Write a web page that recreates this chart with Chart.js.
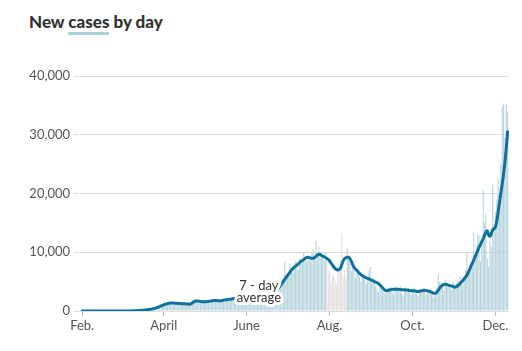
<!DOCTYPE html>
<html>
<head>
<meta charset="utf-8">
<script src="https://cdn.jsdelivr.net/npm/chart.js@4/dist/chart.umd.min.js"></script>
<style>
  html, body { margin: 0; padding: 0; background: #fff; }
  #wrap { position: relative; width: 522px; height: 351px; }
  #title {
    position: absolute; left: 29px; top: 12px;
    font-family: Lato, sans-serif; font-weight: 900; font-size: 17px;
    color: #333; line-height: 20px; white-space: nowrap;
  }
  #title span { border-bottom: 3px solid #a9cfd9; }
  canvas { position: absolute; left: 0; top: 0; }
</style>
</head>
<body>
<div id="wrap">
  <div id="title">New <span>cases</span> by day</div>
  <canvas id="casesChart" width="522" height="351"></canvas>
</div>
<script>
// daily data starts Feb 1, one value per day
const START_DATE = '2020-02-01';

const dailyCases = [
  0,0,0,0,0,0,0,0,0,0,
  0,0,0,0,0,0,0,0,0,0,
  0,0,0,0,0,0,0,0,3,4,
  6,8,10,14,18,24,30,40,45,55,
  70,85,105,125,150,170,200,230,250,280,
  330,380,450,520,600,700,800,900,1000,1100,
  1200,1300,1400,1500,1300,1100,1400,1500,1300,1200,
  1400,1200,1100,1300,1200,1400,1100,1000,1300,1200,
  1500,1800,1900,1700,1600,1500,1700,1600,1500,1700,
  1500,1700,1800,1400,1600,1900,1800,2000,1700,1500,
  1800,1900,1700,1900,2100,1800,1700,2000,2100,2200,
  1900,2300,2000,1900,2200,2500,2300,2100,2600,2400,
  2200,2600,2400,2900,2700,2500,3000,2900,2800,2700,
  3200,3100,2800,3300,3100,2900,3000,3500,3400,3300,
  3100,3600,3200,3500,4200,5000,4400,4800,5500,8400,
  6200,6500,5800,8000,7000,6500,7800,8500,8200,7000,
  9000,8900,8200,10000,9200,8400,8700,9500,8600,9800,
  10500,9300,12000,9900,11000,10200,9000,9200,8600,10000,
  8800,7000,6500,5000,5800,6200,5500,4500,6800,7500,
  7200,13200,6000,7000,5600,10600,9300,8200,6800,7800,
  7000,5600,6400,6900,5800,5000,6300,6000,5400,4700,
  5600,6900,7500,5000,4800,5500,4300,3800,3200,4900,
  4200,3600,3100,2900,3700,4000,3900,4100,3300,2900,
  3800,4200,3600,3900,4300,3200,2600,3500,4000,3800,
  3900,3100,2700,3600,3900,3400,3000,2500,3400,3800,
  3600,3900,3300,2800,3300,3500,3700,3100,2900,2400,
  3200,4000,6300,5000,4800,4900,3500,5300,4800,4000,
  4400,3900,3600,4800,3800,4700,5200,4600,5800,5000,
  4500,6000,6800,10000,6500,7800,8300,7500,13500,9500,
  11000,13000,12800,8500,11500,20500,15000,16500,9000,7500,
  12000,11000,21500,14500,16800,19000,22500,17000,25000,34800,
  35300,29500,35200,34000
];

const sevenDayAvg = [
  0,0,0,0,0,0,0,0,0,0,
  0,0,0,0,0,0,0,0,0,0,
  0,0,0,0,0,0,0,0,2,3,
  5,7,9,12,15,20,26,33,40,50,
  60,75,90,110,130,150,175,200,225,250,
  280,320,370,430,500,580,670,760,860,960,
  1060,1150,1220,1280,1330,1360,1370,1360,1340,1320,
  1300,1290,1270,1260,1250,1240,1230,1200,1180,1170,
  1250,1380,1530,1650,1720,1700,1650,1620,1600,1580,
  1560,1570,1600,1640,1680,1720,1760,1780,1790,1780,
  1760,1740,1760,1800,1850,1880,1920,1960,1980,2000,
  2040,2080,2120,2150,2180,2200,2230,2270,2320,2380,
  2440,2500,2550,2600,2640,2680,2720,2760,2800,2840,
  2880,2920,2960,3000,3040,3080,3120,3160,3200,3240,
  3260,3280,3300,3500,3780,4050,4350,4700,5050,5400,
  5700,6000,6300,6650,6970,7200,7450,7650,7820,8000,
  8250,8450,8600,8750,8950,9100,9130,9080,9000,8960,
  8980,9100,9300,9500,9640,9620,9500,9300,9200,9100,
  8950,8800,8550,8200,7850,7530,7250,7050,6970,7050,
  7300,7900,8550,8900,9050,9130,9130,8900,8450,7900,
  7450,7150,6950,6650,6400,6200,6050,5900,5750,5650,
  5550,5450,5350,5250,5150,5000,4900,4800,4650,4450,
  4200,3950,3700,3500,3450,3500,3580,3620,3680,3700,
  3700,3700,3690,3680,3650,3620,3600,3600,3580,3560,
  3520,3470,3450,3440,3430,3400,3350,3300,3350,3400,
  3450,3500,3520,3500,3450,3380,3300,3200,3100,3000,
  3050,3250,3550,3900,4200,4400,4500,4540,4520,4450,
  4350,4280,4250,4150,4050,4100,4250,4450,4700,4950,
  5200,5450,5750,6100,6550,7050,7600,8100,8650,9200,
  9750,10300,10850,11300,11800,12300,12900,13400,13650,12900,
  12700,13200,13800,14000,14300,15300,16800,18500,20100,21600,
  23300,25300,27700,30500
];

// reporting backlog period, bars shown in grey
const backlogRange = ['2020-07-30', '2020-08-13'];

const tickDates = ['2020-02-01', '2020-04-01', '2020-06-01', '2020-08-01', '2020-10-01', '2020-12-01'];
const tickLabels = ['Feb.', 'April', 'June', 'Aug.', 'Oct.', 'Dec.'];
const yTicks = [0, 10000, 20000, 30000, 40000];

const annotation = { date: '2020-06-10', value: 3250, lines: ['7 - day', 'average'] };

const BAR_COLOR = '#b7d5de';
const BACKLOG_COLOR = '#e5e1de';
const LINE_COLOR = '#11709a';

function dayIndex(dateStr) {
    return Math.round((Date.parse(dateStr) - Date.parse(START_DATE)) / 864e5);
}

document.addEventListener('DOMContentLoaded', () => {
    renderChart();
});

function renderChart() {
    const bStart = dayIndex(backlogRange[0]);
    const bEnd = dayIndex(backlogRange[1]);
    const tickDays = tickDates.map(dayIndex);

    const barData = dailyCases.map((v, i) => ({ x: i, y: v }));
    const lineData = sevenDayAvg.map((v, i) => ({ x: i, y: v }));
    const barColors = dailyCases.map((_, i) => (i >= bStart && i <= bEnd) ? BACKLOG_COLOR : BAR_COLOR);

    // label with a white halo, placed in data coordinates
    const avgLabel = {
        id: 'avgLabel',
        afterDatasetsDraw(chart) {
            const { ctx, scales } = chart;
            const x = scales.x.getPixelForValue(dayIndex(annotation.date));
            const y = scales.y.getPixelForValue(annotation.value);
            ctx.save();
            ctx.font = '13px Lato, sans-serif';
            ctx.textAlign = 'center';
            ctx.textBaseline = 'middle';
            ctx.lineJoin = 'round';
            annotation.lines.forEach((t, i) => {
                const ty = y + (i - 0.5) * 12;
                ctx.strokeStyle = '#fff';
                ctx.lineWidth = 6;
                ctx.strokeText(t, x, ty);
            });
            annotation.lines.forEach((t, i) => {
                const ty = y + (i - 0.5) * 12;
                ctx.fillStyle = '#333';
                ctx.fillText(t, x, ty);
            });
            ctx.restore();
        }
    };

    Chart.defaults.font.family = 'Lato, sans-serif';
    Chart.defaults.font.size = 13;
    Chart.defaults.color = '#555';

    const ctx = document.getElementById('casesChart').getContext('2d');
    new Chart(ctx, {
        type: 'bar',
        data: {
            datasets: [
                {
                    type: 'line',
                    data: lineData,
                    borderColor: LINE_COLOR,
                    borderWidth: 3,
                    pointRadius: 0,
                    cubicInterpolationMode: 'monotone',
                    borderCapStyle: 'round',
                    borderJoinStyle: 'round',
                    order: 0
                },
                {
                    type: 'bar',
                    data: barData,
                    backgroundColor: barColors,
                    borderWidth: 0,
                    barPercentage: 0.85,
                    categoryPercentage: 1,
                    order: 1
                }
            ]
        },
        options: {
            responsive: false,
            animation: false,
            layout: { padding: { top: 76, right: 13, left: 0, bottom: 0 } },
            plugins: {
                legend: { display: false },
                tooltip: { enabled: false }
            },
            scales: {
                x: {
                    type: 'linear',
                    min: -6,
                    max: 314,
                    offset: false,
                    afterBuildTicks: (scale) => { scale.ticks = tickDays.map(v => ({ value: v })); },
                    afterFit: (scale) => { scale.height = 40; },
                    border: { display: false },
                    grid: { offset: false, drawOnChartArea: false, drawTicks: true, tickLength: 5, color: '#bbb' },
                    ticks: {
                        autoSkip: false,
                        maxRotation: 0,
                        padding: 2,
                        callback: (v) => tickLabels[tickDays.indexOf(v)]
                    }
                },
                y: {
                    min: 0,
                    max: 40000,
                    afterBuildTicks: (scale) => { scale.ticks = yTicks.map(v => ({ value: v })); },
                    afterFit: (scale) => { scale.width = 74; },
                    border: { display: false },
                    grid: { drawTicks: false, color: '#dcdcdc' },
                    ticks: {
                        padding: 4,
                        callback: (v) => v.toLocaleString('en-US')
                    }
                }
            }
        },
        plugins: [avgLabel]
    });
}
</script>
</body>
</html>
